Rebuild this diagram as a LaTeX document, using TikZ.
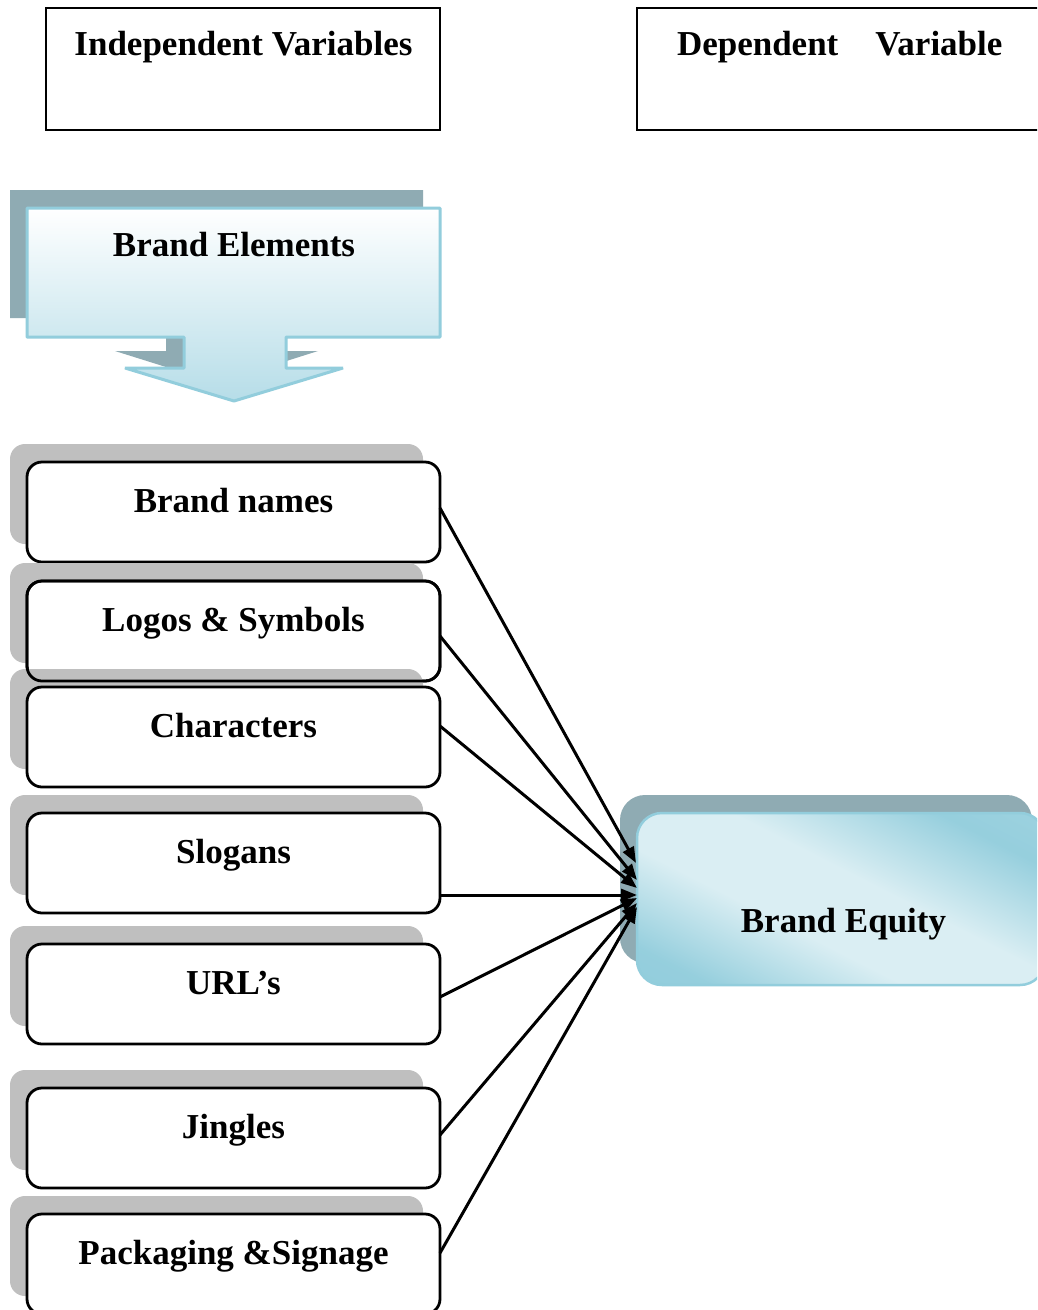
\documentclass[tikz,border=0pt]{standalone}
\usepackage{fontspec}
\setmainfont{Liberation Serif}
\usetikzlibrary{arrows.meta,calc}
\definecolor{shadowteal}{HTML}{8FABB3}
\definecolor{lightblue}{HTML}{92CDDC}
\definecolor{paleblue}{HTML}{DAEEF3}
\definecolor{midblue}{HTML}{B6DDE8}
\definecolor{itemgray}{HTML}{BFBFBF}
\pgfdeclarehorizontalshading{eqshade}{100bp}{color(0bp)=(lightblue); color(25bp)=(lightblue); color(30bp)=(lightblue!95!paleblue); color(43bp)=(paleblue); color(54bp)=(paleblue); color(68bp)=(lightblue!95!paleblue); color(75bp)=(lightblue!85!paleblue); color(100bp)=(lightblue!85!paleblue)}
\begin{document}
\begin{tikzpicture}[x=1pt,y=-1pt,
  every node/.style={inner sep=0pt,outer sep=0pt},
  hdrbox/.style={draw=black,line width=2.5pt,fill=white},
  bigtxt/.style={font=\fontsize{35}{42}\selectfont\bfseries},
  itemtxt/.style={font=\fontsize{35}{42}\selectfont\bfseries},
  itembox/.style={draw=black,line width=2.8pt,fill=white,rounded corners=15pt,minimum width=413pt,minimum height=100pt},
  itemborder/.style={draw=black,line width=2.8pt,rounded corners=15pt,minimum width=413pt,minimum height=100pt},
  itemshadow/.style={fill=itemgray,rounded corners=15pt,minimum width=413pt,minimum height=100pt},
  conn/.style={line width=3pt,-{Triangle[length=16pt,width=12pt]}}
]
\useasboundingbox (0,0) rectangle (1037,1310);
\clip (0,0) rectangle (1037,1310);
\fill[white] (0,0) rectangle (1037,1310);

% header boxes
\node[hdrbox,minimum width=394pt,minimum height=122pt] (ivbox) at (243,69) {};
\node[bigtxt,anchor=base] (ivtxt) at (243.5,55) {Independent Variables};
\node[hdrbox,minimum width=410pt,minimum height=122pt] (dvbox) at (842,69) {};
\node[bigtxt,anchor=base west] (dvtxt) at (677,55) {Dependent\hspace{37pt}Variable};

% Brand Elements arrow
\fill[shadowteal] (10,190) -- (423,190) -- (423,318) -- (270,318) -- (270,351) -- (318,351)
  -- (217,383) -- (115,351) -- (166,351) -- (166,318) -- (10,318) -- cycle;
\path[draw=lightblue,line width=3pt,line join=bevel,top color=white,bottom color=midblue]
  (27,208) -- (440,208) -- (440,337) -- (286,337) -- (286,368) -- (343,368)
  -- (234,401) -- (125,368) -- (184,368) -- (184,337) -- (27,337) -- cycle;
\node[bigtxt,anchor=base] (be) at (234,256) {Brand Elements};

% items
\node[itemshadow] (bns) at (216.5,494) {};
\node[itembox] (bn) at (233.5,512) {};
\node[itemtxt,anchor=base] (bnt) at (233.5,512) {Brand names};

\node[itemshadow] (lgs) at (216.5,613) {};
\node[itembox] (lg) at (233.5,631) {};
\node[itemtxt,anchor=base] (lgt) at (233.5,631) {Logos \& Symbols};

\node[itemshadow] (chs) at (216.5,719) {};
\node[itemborder] (lgb) at (233.5,631) {};
\node[itembox] (ch) at (233.5,737) {};
\node[itemtxt,anchor=base] (cht) at (233.5,737) {Characters};

\node[itemshadow] (sls) at (216.5,845) {};
\node[itembox] (sl) at (233.5,863) {};
\node[itemtxt,anchor=base] (slt) at (233.5,863) {Slogans};

\node[itemshadow] (urs) at (216.5,976) {};
\node[itembox] (ur) at (233.5,994) {};
\node[itemtxt,anchor=base] (urt) at (233.5,994) {URL’s};

\node[itemshadow] (jgs) at (216.5,1120) {};
\node[itembox] (jg) at (233.5,1138) {};
\node[itemtxt,anchor=base] (jgt) at (233.5,1138) {Jingles};

\node[itemshadow] (pks) at (216.5,1246) {};
\node[itembox] (pk) at (233.5,1264) {};
\node[itemtxt,anchor=base] (pkt) at (233.5,1264) {Packaging \&Signage};

% Brand Equity
\node[fill=shadowteal,rounded corners=25pt,minimum width=412pt,minimum height=168pt] (beqs) at (826,879) {};
\begin{scope}
  \clip[rounded corners=25pt] (637,813) rectangle (1045,985);
  \shade[shading=eqshade,transform canvas={rotate around={63:(637,985)}}]
    (637,585) rectangle (975,1385);
\end{scope}
\node[draw=lightblue,line width=2.5pt,rounded corners=25pt,minimum width=408pt,minimum height=172pt] (beq) at (841,899) {};
\node[bigtxt,anchor=base] (beqt) at (843.5,932) {Brand Equity};

% connectors
\coordinate (t1) at ($(beq.west)+(-1,-36)$);
\coordinate (t2) at ($(beq.west)+(0,-19)$);
\coordinate (t3) at ($(beq.west)+(0,-11)$);
\coordinate (t4) at ($(beq.west)+(0,-4)$);
\coordinate (t5) at ($(beq.west)+(0,-1)$);
\coordinate (t6) at ($(beq.west)+(0,4)$);
\coordinate (t7) at ($(beq.west)+(0,8)$);
\draw[conn] ($(bn.east)+(0,-4)$) -- (t1);
\draw[conn] ($(lg.east)+(0,5)$) -- (t2);
\draw[conn] ($(ch.east)+(0,-11)$) -- (t3);
\draw[conn] ($(sl.east)+(0,32)$) -- (t4);
\draw[conn] ($(ur.east)+(0,3)$) -- (t5);
\draw[conn] ($(jg.east)+(0,-3)$) -- (t6);
\draw[conn] ($(pk.east)+(0,-11)$) -- (t7);
\end{tikzpicture}
\end{document}
